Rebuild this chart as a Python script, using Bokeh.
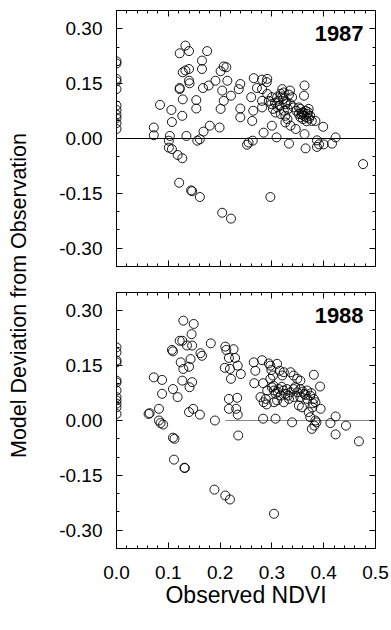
from bokeh.plotting import figure
from bokeh.layouts import row, column
from bokeh.models import (LinearAxis, SingleIntervalTicker, NumeralTickFormatter,
                          CustomJSTickFormatter, Label, Range1d, ColumnDataSource)
from bokeh.embed import file_html
from bokeh.resources import INLINE

# ---------------- data ----------------
x_1987 = [0.0, 0.0, 0.0, 0.0, 0.0, 0.0, 0.0, 0.0, 0.0, 0.0, 0.0,
          0.072, 0.072, 0.084, 0.106, 0.107, 0.103, 0.101, 0.101, 0.107, 0.118, 0.127, 0.121, 0.144, 0.146,
          0.161, 0.122, 0.133, 0.140, 0.128, 0.133, 0.140, 0.140, 0.141, 0.122, 0.122, 0.128, 0.127, 0.135,
          0.154, 0.154, 0.156, 0.161, 0.165, 0.165, 0.167, 0.175, 0.178, 0.168, 0.180, 0.191, 0.201, 0.207,
          0.212, 0.204, 0.207, 0.201, 0.199, 0.214, 0.221, 0.236, 0.239, 0.239, 0.239, 0.204, 0.221, 0.252,
          0.255, 0.263, 0.262, 0.264, 0.260, 0.265, 0.271, 0.281, 0.281, 0.281, 0.284, 0.291, 0.290, 0.297,
          0.300, 0.309, 0.333, 0.346, 0.363, 0.362, 0.363, 0.365, 0.384, 0.387, 0.387, 0.399, 0.400, 0.416,
          0.423, 0.476,
          0.291, 0.294, 0.299, 0.302, 0.307, 0.311, 0.313, 0.317, 0.320, 0.323, 0.322, 0.326, 0.317, 0.326,
          0.331, 0.336, 0.339, 0.335, 0.330, 0.323, 0.310, 0.300, 0.342, 0.347, 0.352, 0.355, 0.358, 0.362,
          0.365, 0.368, 0.371, 0.360, 0.367, 0.374, 0.377, 0.355, 0.352, 0.281, 0.336, 0.326, 0.391,
          0.315, 0.320, 0.328, 0.333, 0.306, 0.361, 0.366, 0.370, 0.357, 0.372]
y_1987 = [0.211, 0.205, 0.163, 0.156, 0.135, 0.090, 0.078, 0.065, 0.056, 0.042, 0.026,
          0.030, 0.009, 0.092, 0.078, 0.045, 0.007, -0.006, -0.025, -0.029, -0.045, -0.054, -0.121, -0.142, -0.144,
          -0.160, 0.233, 0.254, 0.239, 0.181, 0.186, 0.190, 0.158, 0.151, 0.138, 0.135, 0.107, 0.062, 0.007,
          0.105, 0.082, -0.006, -0.002, 0.213, 0.190, 0.138, 0.239, 0.145, 0.019, 0.035, 0.158, 0.184, 0.197,
          0.195, 0.131, 0.103, 0.081, 0.030, 0.158, 0.117, 0.135, 0.149, 0.082, 0.058, -0.203, -0.219, -0.017,
          -0.011, -0.006, 0.048, 0.076, 0.113, 0.165, 0.138, 0.161, 0.135, 0.103, 0.016, 0.163, 0.154, -0.160,
          0.035, 0.003, -0.014, 0.026, 0.145, 0.117, 0.012, -0.027, 0.048, -0.005, -0.023, 0.032, -0.016, -0.014,
          0.003, -0.070,
          0.122, 0.103, 0.094, 0.081, 0.071, 0.085, 0.103, 0.122, 0.135, 0.126, 0.108, 0.094, 0.067, 0.062,
          0.081, 0.094, 0.113, 0.131, 0.053, 0.076, 0.113, 0.113, 0.085, 0.076, 0.067, 0.081, 0.071, 0.062,
          0.076, 0.067, 0.081, 0.053, 0.047, 0.062, 0.048, 0.058, 0.085, 0.085, 0.035, 0.044, -0.016,
          0.090, 0.115, 0.100, 0.120, 0.098, 0.070, 0.058, 0.072, 0.066, 0.055]

x_1988 = [0.0, 0.0, 0.0, 0.0, 0.0, 0.0, 0.0, 0.0, 0.0, 0.0, 0.0, 0.0,
          0.062, 0.064, 0.082, 0.072, 0.088, 0.088, 0.082, 0.085, 0.090, 0.109, 0.112, 0.111, 0.131, 0.132,
          0.109, 0.118, 0.107, 0.109, 0.122, 0.127, 0.129, 0.149, 0.136, 0.145, 0.146, 0.124, 0.129, 0.127,
          0.140, 0.143, 0.146, 0.141, 0.140, 0.148, 0.161, 0.162, 0.165, 0.182, 0.190, 0.189, 0.210, 0.219,
          0.210, 0.212, 0.217, 0.226, 0.229, 0.209, 0.219, 0.221, 0.234, 0.240, 0.217, 0.233, 0.217, 0.231,
          0.234, 0.235, 0.265, 0.268, 0.266, 0.281, 0.283, 0.278, 0.284, 0.290, 0.283, 0.307, 0.304, 0.339,
          0.381, 0.393, 0.394, 0.413, 0.423, 0.443, 0.423, 0.468, 0.377, 0.382, 0.384, 0.374,
          0.294, 0.297, 0.299, 0.302, 0.297, 0.310, 0.315, 0.320, 0.323, 0.336, 0.342, 0.349, 0.355, 0.300,
          0.304, 0.307, 0.313, 0.317, 0.322, 0.326, 0.329, 0.336, 0.342, 0.349, 0.355, 0.362, 0.368, 0.374,
          0.381, 0.384, 0.378, 0.368, 0.355, 0.342, 0.333, 0.310, 0.304, 0.323, 0.352, 0.358, 0.371, 0.291,
          0.288, 0.303, 0.311, 0.319, 0.331, 0.345, 0.360, 0.365, 0.376, 0.379, 0.386]
y_1988 = [0.200, 0.186, 0.164, 0.159, 0.109, 0.104, 0.082, 0.064, 0.055, 0.046, 0.036, 0.018,
          0.018, 0.020, 0.032, 0.118, 0.111, 0.073, 0.000, -0.007, -0.011, -0.047, -0.050, -0.107, -0.129, -0.130,
          0.086, 0.064, 0.193, 0.189, 0.218, 0.218, 0.273, 0.264, 0.205, 0.236, 0.205, 0.159, 0.141, 0.109,
          0.147, 0.168, 0.105, 0.091, 0.023, 0.032, 0.016, 0.184, 0.177, 0.211, 0.000, -0.189, -0.205, -0.216,
          0.202, 0.193, 0.171, 0.195, 0.171, 0.144, 0.141, 0.114, 0.150, 0.127, 0.059, 0.062, 0.032, 0.032,
          0.016, -0.041, 0.159, 0.136, 0.102, 0.165, 0.102, 0.064, 0.050, 0.044, 0.005, 0.005, -0.255, -0.005,
          0.125, 0.093, 0.032, -0.007, 0.011, -0.014, -0.038, -0.057, -0.023, -0.014, 0.000, 0.009,
          0.156, 0.150, 0.138, 0.123, 0.114, 0.155, 0.136, 0.123, 0.132, 0.132, 0.123, 0.114, 0.109, 0.091,
          0.082, 0.073, 0.086, 0.068, 0.082, 0.073, 0.086, 0.077, 0.086, 0.077, 0.086, 0.073, 0.082, 0.068,
          0.059, 0.050, 0.036, 0.059, 0.064, 0.064, 0.059, 0.055, 0.050, 0.050, 0.041, 0.036, 0.023, 0.082,
          0.059, 0.095, 0.078, 0.092, 0.068, 0.091, 0.079, 0.070, 0.075, 0.047, -0.005]

zero_line_1987_x = [0.0, 0.5]
zero_line_1988_x = [0.21, 0.5]
zero_line_y = [0.0, 0.0]

years = ["1987", "1988"]
x_title = "Observed NDVI"
y_title = "Model Deviation from Observation"

FONT = "Liberation Sans"


def style_axis(ax, labels=True, fmt=None, standoff=0):
    ax.axis_line_color = "black"
    ax.axis_line_width = 1
    ax.major_tick_in = 6
    ax.major_tick_out = 0
    ax.minor_tick_in = 3
    ax.minor_tick_out = 0
    ax.major_tick_line_color = "black"
    ax.minor_tick_line_color = "black"
    if labels:
        ax.major_label_text_font = FONT
        ax.major_label_text_font_size = "19px"
        ax.major_label_text_color = "black"
        ax.major_label_standoff = standoff
        if fmt:
            ax.formatter = NumeralTickFormatter(format=fmt)
    else:
        ax.formatter = CustomJSTickFormatter(code="return '';")
        ax.major_label_text_font_size = "1px"
        ax.major_label_text_color = None
        ax.major_label_standoff = 0


def make_panel(xs, ys, line_x, year, bottom, height, top_border, bottom_border, line_color):
    p = figure(width=355, height=height, toolbar_location=None, output_backend="svg",
               x_range=Range1d(0.0, 0.5), y_range=Range1d(-0.35, 0.35),
               x_axis_location=None, y_axis_location=None,
               min_border_left=80, min_border_right=16,
               min_border_top=top_border, min_border_bottom=bottom_border)
    p.xgrid.visible = False
    p.ygrid.visible = False
    p.outline_line_color = "black"
    p.background_fill_color = "white"
    p.border_fill_color = "white"

    bottom_ax = LinearAxis(ticker=SingleIntervalTicker(interval=0.1, num_minor_ticks=5))
    style_axis(bottom_ax, labels=bottom, fmt="0.0", standoff=17)
    if bottom:
        bottom_ax.axis_label = x_title
        bottom_ax.axis_label_text_font = FONT
        bottom_ax.axis_label_text_font_size = "23px"
        bottom_ax.axis_label_text_font_style = "normal"
        bottom_ax.axis_label_text_color = "black"
        bottom_ax.axis_label_standoff = 0
    p.add_layout(bottom_ax, "below")

    left_ax = LinearAxis(ticker=SingleIntervalTicker(interval=0.15, num_minor_ticks=3))
    style_axis(left_ax, labels=True, fmt="0.00", standoff=14)
    p.add_layout(left_ax, "left")

    top_ax = LinearAxis(ticker=SingleIntervalTicker(interval=0.1, num_minor_ticks=5))
    style_axis(top_ax, labels=False)
    p.add_layout(top_ax, "above")

    right_ax = LinearAxis(ticker=SingleIntervalTicker(interval=0.15, num_minor_ticks=3))
    style_axis(right_ax, labels=False)
    p.add_layout(right_ax, "right")

    p.line(line_x, zero_line_y, line_color=line_color, line_width=1)
    src = ColumnDataSource(dict(x=xs, y=ys))
    p.scatter("x", "y", source=src, marker="circle", size=9, fill_color=None,
              line_color="black", line_width=0.9)

    p.add_layout(Label(x=0.477, y=0.287, text=year, text_align="right",
                       text_baseline="middle", text_font=FONT,
                       text_font_size="22px", text_font_style="bold",
                       text_color="black"))
    return p


p1 = make_panel(x_1987, y_1987, zero_line_1987_x, years[0], False, 280, 10, 14, "black")
p2 = make_panel(x_1988, y_1988, zero_line_1988_x, years[1], True, 340, 12, 72, "#888888")

# y-axis title spanning both panels: the axis label of a slim companion figure
TOTAL_H = 620
title_fig = figure(width=36, height=TOTAL_H, toolbar_location=None, output_backend="svg",
                   x_range=Range1d(0, 1), y_range=Range1d(0, 1),
                   x_axis_location=None, y_axis_location=None,
                   min_border_left=30, min_border_right=0,
                   min_border_top=0, min_border_bottom=30)
title_fig.outline_line_color = None
title_fig.xgrid.visible = False
title_fig.ygrid.visible = False
yt_ax = LinearAxis(axis_label=y_title)
yt_ax.axis_line_color = None
yt_ax.major_tick_line_color = None
yt_ax.minor_tick_line_color = None
yt_ax.major_tick_in = 0
yt_ax.major_tick_out = 0
yt_ax.minor_tick_in = 0
yt_ax.minor_tick_out = 0
yt_ax.formatter = CustomJSTickFormatter(code="return '';")
yt_ax.major_label_text_font_size = "1px"
yt_ax.major_label_text_color = None
yt_ax.major_label_standoff = 0
yt_ax.axis_label_standoff = 0
yt_ax.axis_label_text_font = FONT
yt_ax.axis_label_text_font_size = "21.5px"
yt_ax.axis_label_text_font_style = "normal"
yt_ax.axis_label_text_color = "black"
title_fig.add_layout(yt_ax, "left")

layout = row(title_fig, column(p1, p2, spacing=0), spacing=0)

open("out.html", "w").write(file_html(layout, INLINE))
